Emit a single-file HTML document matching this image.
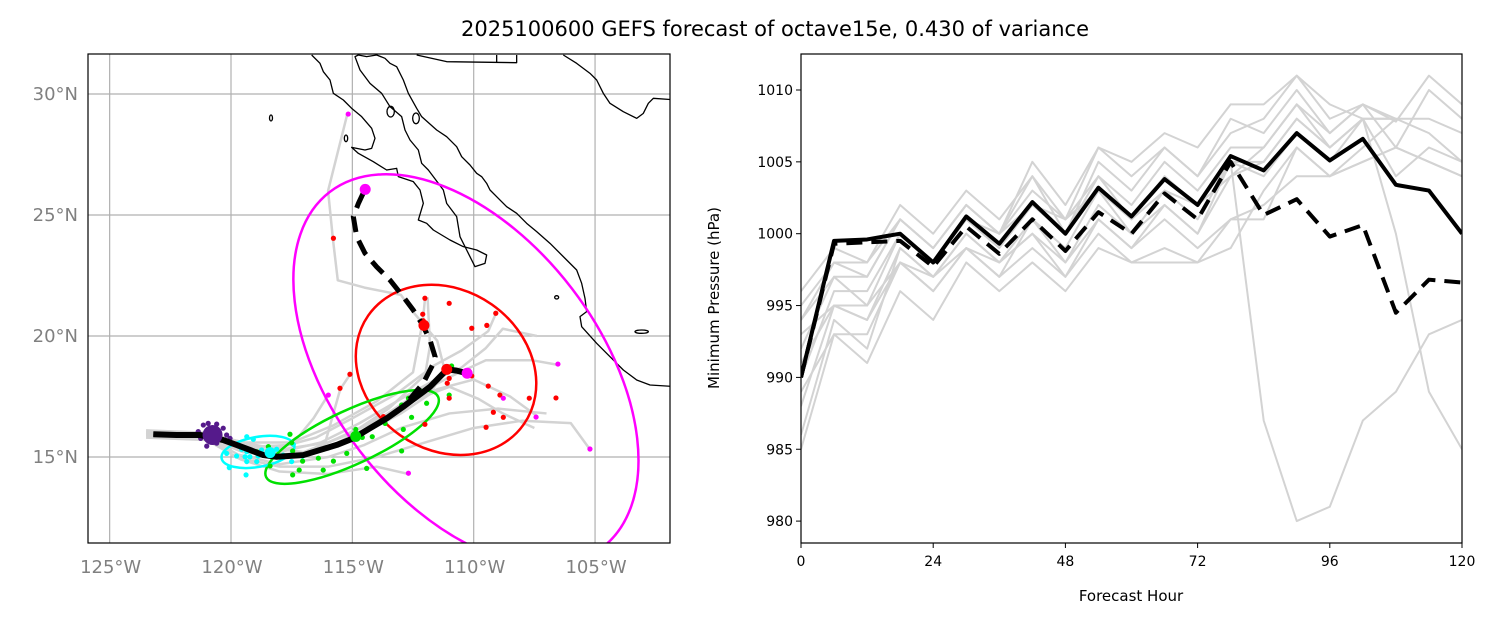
<!DOCTYPE html>
<html><head><meta charset="utf-8">
<style>
html,body{margin:0;padding:0;background:#fff;}
svg{display:block;font-family:"DejaVu Sans","Liberation Sans",sans-serif;}
</style></head>
<body>
<svg id="fig" width="1496" height="621" viewBox="0 0 1496 621" xmlns="http://www.w3.org/2000/svg">
<rect width="1496" height="621" fill="#fff"/>
<text x="775" y="36" text-anchor="middle" font-size="21">2025100600 GEFS forecast of octave15e, 0.430 of variance</text>
<defs>
<clipPath id="mapclip"><rect x="88" y="54" width="582" height="489"/></clipPath>
<clipPath id="plotclip"><rect x="801" y="54" width="661" height="489"/></clipPath>
</defs>
<g id="map"></g>
<g id="press"></g>
</svg>
<script>
// ---------- MAP DATA ----------
const latTicks = [15, 20, 25, 30];
const lonTicks = [-125, -120, -115, -110, -105];
const meanTrackLon = [-123.20,-122.24,-121.28,-120.32,-119.77,-119.22,-118.67,-118.12,-117.02,-115.64,-114.96,-114.27,-113.58,-112.90,-112.35,-111.80,-111.25,-111.11,-110.70,-110.29];
const meanTrackLat = [15.94,15.91,15.91,15.70,15.50,15.29,15.08,15.01,15.08,15.50,15.77,16.19,16.60,17.08,17.49,17.90,18.46,18.62,18.57,18.46];
const dashTrackLon = [-112.08,-111.94,-111.66,-111.59,-111.80,-112.14,-112.49,-112.90,-113.45,-114.00,-114.48,-114.82,-114.96,-114.75,-114.48];
const dashTrackLat = [18.05,18.32,18.87,19.14,19.83,20.52,21.07,21.62,22.31,22.86,23.42,24.10,24.93,25.48,26.06];
const memberTracks = [
 [[-123.5,15.9],[-121,15.9],[-119.5,15.4],[-118,15.1],[-116,15.3],[-114.5,16],[-113,16.8],[-111.8,17.6],[-111.2,18.6],[-111.5,19.8],[-112.5,21],[-113,21.7],[-114.5,22],[-115.6,22.3],[-115.8,24.0],[-116,26],[-115.2,29.2]],
 [[-123.5,16.1],[-121,16.0],[-119.5,15.6],[-118,15.3],[-116,15.6],[-114,16.5],[-112.5,17.5],[-111,18.3],[-109.5,19],[-107.6,19.0],[-106.5,18.8]],
 [[-123.4,15.8],[-121,15.8],[-119.8,15.0],[-118,14.6],[-116,14.6],[-114,15.0],[-112,15.6],[-110,16.2],[-108,16.5],[-106,16.4],[-105.2,15.3]],
 [[-123.5,16.0],[-121,15.9],[-119.5,15.3],[-117.5,15.0],[-115.5,15.8],[-113.5,16.8],[-111.5,17.8],[-110,18.2],[-108.5,17.5],[-107.4,16.7]],
 [[-123.5,15.9],[-121,16],[-119.5,15.5],[-117,15.2],[-115,16],[-113.5,17],[-112,18.4],[-111.8,19.6],[-111.9,21.6]],
 [[-123.5,16],[-121,15.8],[-119.7,15.1],[-118,14.7],[-116,15.0],[-114.5,15.5],[-113,16.2],[-111,16.8],[-109,17],[-107,16.8]],
 [[-123.5,15.9],[-121,15.9],[-119.6,15.4],[-117.5,15.5],[-116.6,16.6],[-116,17.56]],
 [[-123.5,16.0],[-121,16],[-119.5,15.5],[-118,15.4],[-116.5,15.8],[-115,16.6],[-113.2,17.6],[-111.6,18.8],[-110.5,19.4],[-109.4,20.2],[-109.1,20.9]],
 [[-123.5,15.8],[-121,15.7],[-119.6,14.9],[-118,14.4],[-116,14.3],[-114,14.6],[-112.7,14.3]],
 [[-123.5,16],[-121,15.9],[-119.4,15.6],[-117.5,15.6],[-115.8,16.3],[-114,17.3],[-112.5,18.5],[-112.1,20.6],[-112.0,21.6]],
 [[-123.5,15.9],[-121,15.8],[-119.5,15.2],[-117.8,15.0],[-116,15.4],[-114.2,16.3],[-112.6,17.3],[-111,17.9],[-109.8,17.4],[-108.8,16.8],[-107.5,16.2]],
 [[-123.4,15.9],[-121,15.9],[-119.5,15.4],[-118,15.2],[-116.3,15.6],[-114.7,16.4],[-113,17.4],[-111.4,18.3],[-110.5,18.7],[-109.5,19.5],[-108.8,20.3],[-107.4,20.0]],
 [[-123.5,15.9],[-121,15.9],[-119.5,15.3],[-117.6,15.0],[-116.2,15.3],[-115.5,17.8],[-115.1,18.4]]
];
const purpleDots = [[-121.14,16.32],[-120.94,16.39],[-120.59,16.36],[-120.32,16.19],[-120.18,15.91],[-120.25,15.70],[-120.59,15.57],[-121.00,15.45],[-121.25,15.77],[-121.35,16.05],[-120.04,15.77],[-120.80,15.98]];
const cyanDots = [[-119.35,15.84],[-119.08,15.73],[-119.56,15.32],[-119.35,15.22],[-119.77,15.04],[-120.18,15.15],[-119.70,15.45],[-119.42,15.01],[-119.22,15.01],[-119.35,14.81],[-118.88,15.04],[-118.46,15.18],[-118.74,15.29],[-118.12,15.32],[-117.85,15.08],[-117.43,15.52],[-117.50,14.81],[-117.05,15.04],[-120.07,14.56],[-119.38,14.26],[-118.94,14.81]];
const greenDots = [[-117.57,15.94],[-118.46,15.43],[-118.94,15.22],[-117.46,15.25],[-117.50,15.59],[-118.39,14.63],[-117.05,14.83],[-117.46,14.26],[-117.19,14.46],[-116.40,14.95],[-116.20,15.32],[-115.78,14.83],[-116.20,14.46],[-115.23,15.15],[-114.86,16.14],[-114.59,15.81],[-114.18,15.84],[-113.86,16.46],[-113.65,16.39],[-112.90,16.14],[-112.97,17.15],[-112.69,17.43],[-112.56,16.64],[-111.94,17.22],[-112.97,15.25],[-114.41,14.53],[-111.01,17.56],[-110.91,18.76]];
const redDots = [[-115.78,24.04],[-112.01,21.56],[-111.01,21.35],[-112.08,20.63],[-110.08,20.32],[-109.46,20.44],[-109.09,20.94],[-115.10,18.42],[-115.51,17.84],[-111.01,18.25],[-111.09,18.05],[-111.01,17.43],[-109.40,17.93],[-108.92,17.56],[-108.78,16.64],[-109.19,16.85],[-109.49,16.23],[-107.71,17.43],[-112.01,16.35],[-110.08,18.35],[-113.72,16.67],[-106.61,17.44],[-112.1,20.9]];
const magentaDots = [[-115.17,29.17],[-115.99,17.56],[-108.78,17.43],[-112.69,14.33],[-106.53,18.84],[-107.43,16.65],[-105.21,15.33]];
const meanMarkers = [[-120.76,15.91,'#551a8b'],[-118.39,15.18,'#00ffff'],[-114.86,15.85,'#00e000'],[-111.11,18.62,'#ff0000'],[-110.27,18.46,'#ff00ff'],[-112.05,20.44,'#ff0000'],[-114.47,26.06,'#ff00ff']];
const ellipses = [[-110.32,18.60,9.23,5.52,52.6,'#ff00ff'],[-111.14,18.60,3.91,3.30,35,'#ff0000'],[-115.01,15.83,3.91,1.11,-25,'#00e000'],[-118.89,15.21,1.52,0.62,-10,'#00ffff']];

// ---------- PRESSURE DATA ----------
const hours = [0,6,12,18,24,30,36,42,48,54,60,66,72,78,84,90,96,102,108,114,120];
const xTickHours = [0,24,48,72,96,120];
const yTickPress = [980,985,990,995,1000,1005,1010];
const meanPress = [990,999.5,999.6,1000,998,1001.2,999.3,1002.2,1000,1003.2,1001.2,1003.8,1002,1005.4,1004.4,1007,1005.1,1006.6,1003.4,1003,1000];
const detPress = [990,999.3,999.4,999.5,997.7,1000.5,998.6,1001,998.8,1001.5,1000,1002.8,1001,1005,1001.3,1002.4,999.8,1000.6,994.5,996.8,996.6];
const memberPress = [
 [996,999,998,1002,1000,1003,1001,1004,1001,1006,1004,1006,1004,1008,1007,1010,1007,1009,1007.8,1011,1009],
 [994,998,998,1001,999,1002,1000,1004,1000,1005,1003,1006,1004,1007,1008,1011,1009,1008,1008,null,null],
 [992,997,997,1001,999,1002,1000,1003,1001,1004,1002,1005,1003,1006,1006,1009,1007,1009,1006,1010,1008],
 [990,996,996,1000,998,1001,999,1002,1000,1004,1001,1004,1002,1005,1005,1008,1006,1008,1004,1006,1005],
 [988,995,994,999,997,1000,998,1001,999,1003,1000,1003,1001,1005,1004,1007,1005,1008,1008,null,null],
 [986,994,992,999,997,999,998,1000,998,1002,1000,1002,1000,1004,1005,1008,1006,1008,1000,989,985],
 [994,997,995,998,996,999,997,1001,998,1001,999,1002,1000,1005,987,980,981,987,989,993,994],
 [989,993,991,996,994,998,996,998,996,999,998,998,998,999,1003,1006,1004,1006,1008,1007,1005],
 [985,993,993,998,997,1000,998,1000,997,1001,999,1001,999,1001,1002,1004,1004,1005,1006,1005,1004],
 [993,995,994,998,996,999,997,999,997,1000,998,999,998,1001,1001,1006,1004,1005,1006,1005,1004],
 [991,995,995,1000,998,1001,1000,1002,1001,1003,1001,1003,1002,1004,1006,1009,1006,1008,null,null,null],
 [995,998,997,1001,999,1002,1000,1005,1002,1006,1005,1007,1006,1009,1009,1011,1008,1009,1008,1008,1007]
];

const NS = 'http://www.w3.org/2000/svg';
function mk(tag, attrs, parent){ const e=document.createElementNS(NS,tag); for(const k in attrs) e.setAttribute(k,attrs[k]); parent.appendChild(e); return e; }

// ---------- MAP ----------
const map = document.getElementById('map');
const lonX = lon => 231 + (lon + 120) * 24.27;
const latY = lat => 457 - (lat - 15) * 24.2;
const mg = mk('g', {'clip-path':'url(#mapclip)'}, map);
lonTicks.forEach(l => { const g = mk('line',{x1:lonX(l),x2:lonX(l),y1:54,y2:543,stroke:'#b0b0b0','stroke-width':1.2},mg);
   });
latTicks.forEach(l => { const g = mk('line',{x1:88,x2:670,y1:latY(l),y2:latY(l),stroke:'#b0b0b0','stroke-width':1.2},mg);
   });
const coast = mk('g',{transform:'translate(290,50) scale(0.33333)',fill:'none',stroke:'#000','stroke-width':1.3,'stroke-linejoin':'round'},mg);


const coastPaths = [
 'M65,15 L90,40 100,65 120,90 130,130 160,150 185,175 215,200 245,235 255,265 245,295 225,300 185,292 205,310 250,335 290,360 320,355 325,380 370,395 390,420 400,460 385,510 410,520 430,540 480,570 520,590 560,600 590,615 585,640 555,650 530,600 510,560 500,500 470,460 460,420 430,380 415,360 395,340 385,300 360,270 345,240 335,200 300,170 275,130 240,100 210,60 195,20 205,15 230,20 260,15 285,25 300,40 320,50 340,90 355,130 380,175 395,200 440,240 470,260 500,290 515,320 540,345 560,370 575,380 590,400 600,420 620,440 650,470 680,490 710,520 740,545 780,580 830,630 860,660 875,700 885,745 890,785 870,800 875,830 920,880 960,920 1000,960 1040,990 1080,1005 1160,1010',
 'M820,15 L860,40 900,70 920,90 940,130 960,160 1000,185 1040,205 1060,190 1075,160 1090,145 1160,150',
 'M380,15 L470,35 680,38 680,15 M620,15 L620,38'
];
coastPaths.forEach(d => { const p = mk('path',{d:d,'vector-effect':'non-scaling-stroke'},coast);   });
[[302,185,11,16],[378,205,10,16],[168,265,5,10],[800,742,6,5],[1055,845,20,5]].forEach(a=>{ const e=mk('ellipse',{cx:a[0],cy:a[1],rx:a[2],ry:a[3],'vector-effect':'non-scaling-stroke'},coast);   });
const isl = mk('ellipse',{cx:271,cy:118,rx:1.5,ry:3,fill:'none',stroke:'#000','stroke-width':1.3},mg);
 
memberTracks.forEach(t => { const p = mk('polyline',{points:t.map(q=>lonX(q[0])+','+latY(q[1])).join(' '),fill:'none',stroke:'#d3d3d3','stroke-width':2.5,'stroke-linejoin':'round'},mg);
   });
ellipses.forEach(e => { const cx=lonX(e[0]), cy=latY(e[1]);
 const el = mk('ellipse',{cx:cx,cy:cy,rx:e[2]*24.27,ry:e[3]*24.2,transform:`rotate(${e[4]} ${cx} ${cy})`,fill:'none',stroke:e[5],'stroke-width':2.5},mg);
   });
function dots(arr,color,name){ arr.forEach(d=>{ const c=mk('circle',{cx:lonX(d[0]),cy:latY(d[1]),r:2.6,fill:color},mg);
   }); }
dots(purpleDots,'#551a8b','day1-member-dot');
dots(cyanDots,'#00ffff','day2-member-dot');
dots(greenDots,'#00e000','day3-member-dot');
dots(redDots,'#ff0000','day4-member-dot');
dots(magentaDots,'#ff00ff','day5-member-dot');
const fullDashLon = meanTrackLon.slice(0,14).concat(dashTrackLon);
const fullDashLat = meanTrackLat.slice(0,14).concat(dashTrackLat);
const dt = mk('polyline',{points:fullDashLon.map((l,i)=>lonX(l)+','+latY(fullDashLat[i])).join(' '),fill:'none',stroke:'#000','stroke-width':5,'stroke-dasharray':'16,9'},mg);
 
const mt = mk('polyline',{points:meanTrackLon.map((l,i)=>lonX(l)+','+latY(meanTrackLat[i])).join(' '),fill:'none',stroke:'#000','stroke-width':6,'stroke-linejoin':'round'},mg);
 
meanMarkers.forEach(m => { const c = mk('circle',{cx:lonX(m[0]),cy:latY(m[1]),r:m[2]==='#551a8b'?10:5.5,fill:m[2]},mg);
   });
const mf = mk('rect',{x:88,y:54,width:582,height:489,fill:'none',stroke:'#000','stroke-width':1.2},map);
 
latTicks.forEach(l => { const t = mk('text',{x:78,y:latY(l)+6,'text-anchor':'end','font-size':18,fill:'#808080'},map); t.textContent=l+'°N';
   });
lonTicks.forEach(l => { const t = mk('text',{x:lonX(l)+1,y:573,'text-anchor':'middle','font-size':18,fill:'#808080'},map); t.textContent=Math.abs(l)+'°W';
   });

// ---------- PRESSURE CHART ----------
const pc = document.getElementById('press');
const hx = h => 801 + h * (661/120);
const py = p => 90 + (1010 - p) * 14.37;
const pg = mk('g',{'clip-path':'url(#plotclip)'},pc);
function line(vals, attrs, name){
 let segs=[], cur=[];
 vals.forEach((v,i)=>{ if(v===null){ if(cur.length) segs.push(cur); cur=[]; } else cur.push(hx(hours[i])+','+py(v)); });
 if(cur.length) segs.push(cur);
 segs.forEach(s=>{ const a=Object.assign({points:s.join(' '),fill:'none','stroke-linejoin':'round'},attrs); const p=mk('polyline',a,pg);
    });
}
memberPress.forEach(m => line(m,{stroke:'#d3d3d3','stroke-width':2},'member-pressure-line'));
line(detPress,{stroke:'#000','stroke-width':4,'stroke-dasharray':'16,9'},'deterministic-pressure-line');
line(meanPress,{stroke:'#000','stroke-width':4},'mean-pressure-line');
const pf = mk('rect',{x:801,y:54,width:661,height:489,fill:'none',stroke:'#000','stroke-width':1.2},pc);
 
yTickPress.forEach(p => { const y=py(p);
 const tk = mk('line',{x1:796,x2:801,y1:y,y2:y,stroke:'#000','stroke-width':1},pc);
  
 const t = mk('text',{x:793,y:y+5,'text-anchor':'end','font-size':14},pc); t.textContent=p;
   });
xTickHours.forEach(h => { const x=hx(h);
 const tk = mk('line',{x1:x,x2:x,y1:543,y2:548,stroke:'#000','stroke-width':1},pc);
  
 const t = mk('text',{x:x,y:566,'text-anchor':'middle','font-size':14},pc); t.textContent=h;
   });
const xt = mk('text',{x:1131,y:601,'text-anchor':'middle','font-size':15},pc); xt.textContent='Forecast Hour';
 
const yt = mk('text',{x:0,y:0,'text-anchor':'middle','font-size':15,transform:'translate(719,298) rotate(-90)'},pc); yt.textContent='Minimum Pressure (hPa)';
 
</script>
</body></html>
